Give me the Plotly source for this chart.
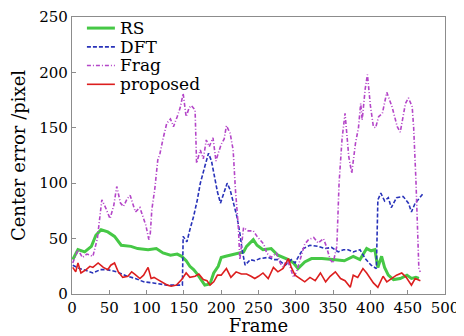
import plotly.graph_objects as go

# ---- data ----
frag_f = [1, 5, 8, 14, 20, 28, 34, 40, 45, 51, 56, 60, 65, 69, 74, 78, 82, 85, 91, 95, 99, 103, 105, 107, 111, 115,
          118, 122, 127, 132, 136, 141, 145, 149, 153, 157, 160, 165, 167, 172, 176, 180, 184, 189, 193, 196, 200,
          204, 207, 212, 216, 219, 223, 225, 230, 236, 243, 248, 252, 257, 261, 267, 274, 279, 283, 288, 292, 297,
          301, 307, 312, 317, 324, 330, 337, 341, 346, 350, 355, 358, 362, 366, 371, 375, 380, 384, 387, 389, 393,
          396, 400, 404, 407, 411, 416, 422, 429, 436, 440, 447, 451, 456, 458, 461, 463, 465, 467]
frag_v = [28, 35, 40, 33, 36, 34, 50, 85, 78, 68, 80, 97, 82, 79, 86, 89, 80, 74, 78, 70, 62, 49, 55, 76, 95, 121,
          127, 140, 154, 158, 151, 160, 168, 181, 160, 168, 170, 166, 118, 130, 122, 139, 133, 141, 120, 127, 135,
          140, 152, 145, 130, 95, 60, 31, 60, 57, 57, 52, 49, 45, 37, 33, 37, 28, 24, 31, 25, 15,
          20, 33, 45, 49, 51, 46, 50, 43, 31, 28, 43, 100, 140, 163, 124, 109, 136, 150, 172, 157, 185,
          198, 170, 151, 150, 160, 163, 182, 169, 151, 146, 172, 177, 169, 150, 103, 49, 22, 20]

dft_f = [1, 10, 20, 28, 38, 47, 60, 74, 85, 96, 109, 120, 127, 138, 148, 149, 154, 158, 163, 168, 172, 178, 183,
         187, 190, 195, 199, 204, 208, 212, 217, 221, 225, 228, 232, 239, 245, 252, 263, 270, 276, 286, 294, 299,
         303, 310, 319, 330, 339, 348, 357, 364, 370, 377, 386, 393, 401, 408, 410, 414, 419, 424, 428, 435, 444,
         451, 455, 460, 464, 471]
dft_v = [26, 23, 21, 19, 22, 22, 20, 16, 14, 11, 10, 9, 8, 8, 8, 52, 47, 58, 70, 85, 100, 115, 127,
         120, 109, 92, 82, 92, 100, 94, 80, 70, 55, 40, 26, 31, 30, 32, 33, 31, 31, 26, 31, 28,
         33, 41, 44, 43, 41, 42, 38, 40, 40, 38, 40, 32, 26, 23, 85, 91, 84, 87, 78, 87, 88,
         82, 74, 82, 85, 91]

rs_f = [1, 8, 17, 26, 32, 39, 48, 57, 66, 79, 88, 102, 113, 122, 132, 141, 147, 153, 158, 163, 168, 172, 178, 185,
        190, 196, 200, 206, 212, 223, 230, 234, 243, 248, 256, 267, 276, 290, 297, 303, 312, 321, 335, 353, 365,
        377, 386, 395, 401, 406, 410, 415, 419, 424, 431, 440, 449, 455, 461, 465]
rs_v = [31, 40, 38, 43, 53, 58, 56, 52, 44, 43, 41, 40, 41, 37, 35, 36, 34, 30, 25, 22, 18, 14, 8, 9,
        19, 25, 33, 34, 35, 37, 38, 43, 49, 44, 40, 41, 35, 31, 28, 23, 29, 32, 32, 31, 30,
        34, 31, 41, 39, 40, 24, 34, 24, 17, 13, 14, 17, 14, 15, 14]

prop_f = [1, 5, 8, 12, 19, 24, 28, 35, 42, 48, 52, 57, 62, 68, 75, 80, 84, 91, 96, 102, 106, 110, 115, 122, 128,
          133, 140, 147, 153, 158, 165, 170, 176, 181, 185, 190, 195, 200, 207, 213, 220, 227, 234, 240, 245, 250,
          256, 263, 270, 276, 283, 290, 294, 299, 306, 312, 319, 326, 333, 340, 346, 353, 360, 366, 373, 377, 383,
          390, 395, 399, 404, 410, 417, 422, 428, 435, 442, 448, 455, 460, 467]
prop_v = [24, 20, 28, 19, 22, 25, 24, 28, 24, 22, 26, 28, 20, 15, 16, 20, 18, 14, 17, 24, 14, 15, 13, 10, 8,
          7, 8, 13, 19, 15, 16, 18, 13, 12, 8, 11, 17, 17, 23, 15, 20, 18, 18, 16, 14, 16,
          19, 14, 24, 20, 23, 32, 24, 17, 14, 11, 15, 12, 19, 11, 16, 20, 14, 12, 6, 17, 15,
          23, 19, 15, 10, 6, 16, 11, 14, 17, 19, 15, 8, 14, 12]

series_names = ["RS", "DFT", "Frag", "proposed"]
x_ticks = [0, 50, 100, 150, 200, 250, 300, 350, 400, 450, 500]
y_ticks = [0, 50, 100, 150, 200, 250]

FONT = "DejaVu Serif"
styles = {
    "RS": dict(color="rgb(70,200,70)", width=3, dash="solid"),
    "DFT": dict(color="rgb(40,50,185)", width=1.6, dash="4px,2px"),
    "Frag": dict(color="rgb(180,70,200)", width=1.6, dash="4px,2px,1px,2px"),
    "proposed": dict(color="rgb(220,30,30)", width=1.6, dash="solid"),
}
data = {"RS": (rs_f, rs_v), "DFT": (dft_f, dft_v), "Frag": (frag_f, frag_v), "proposed": (prop_f, prop_v)}

fig = go.Figure()
for name in series_names:
    fx, fy = data[name]
    fig.add_trace(go.Scatter(x=fx, y=fy, mode="lines", name=name, line=styles[name], showlegend=False))

# legend drawn in the top-left corner (line sample + label)
leg_y = [0.960, 0.892, 0.825, 0.757]
for name, ly in zip(series_names, leg_y):
    st = styles[name]
    fig.add_shape(type="line", xref="paper", yref="paper", x0=0.040, x1=0.115, y0=ly, y1=ly,
                  line=dict(color=st["color"], width=st["width"], dash=st["dash"]))
    fig.add_annotation(xref="paper", yref="paper", x=0.124, y=ly, text=name, showarrow=False,
                       xanchor="left", yanchor="middle",
                       font=dict(family=FONT, size=17, color="black"))

axis_common = dict(showgrid=False, zeroline=False, showline=True, mirror=True, automargin=False,
                   linecolor="rgb(140,140,140)", linewidth=1.2,
                   ticks="inside", ticklen=4, tickcolor="rgb(140,140,140)",
                   ticklabeloverflow="allow",
                   tickfont=dict(family=FONT, size=15, color="black"))

# page body has an 8px margin, so the figure is sized to fit the 464x336 window
fig.update_layout(
    width=456, height=328,
    margin=dict(l=64, r=19, t=9, b=42),
    paper_bgcolor="white", plot_bgcolor="white",
    font=dict(family=FONT, color="black"),
    showlegend=False,
    xaxis=dict(range=[0, 500], tickvals=x_ticks,
               title=dict(text="Frame", font=dict(family=FONT, size=18), standoff=0),
               **axis_common),
    yaxis=dict(range=[0, 250], tickvals=y_ticks,
               title=dict(text="Center error /pixel", font=dict(family=FONT, size=18), standoff=8),
               **axis_common),
)

fig.write_html("out.html")
